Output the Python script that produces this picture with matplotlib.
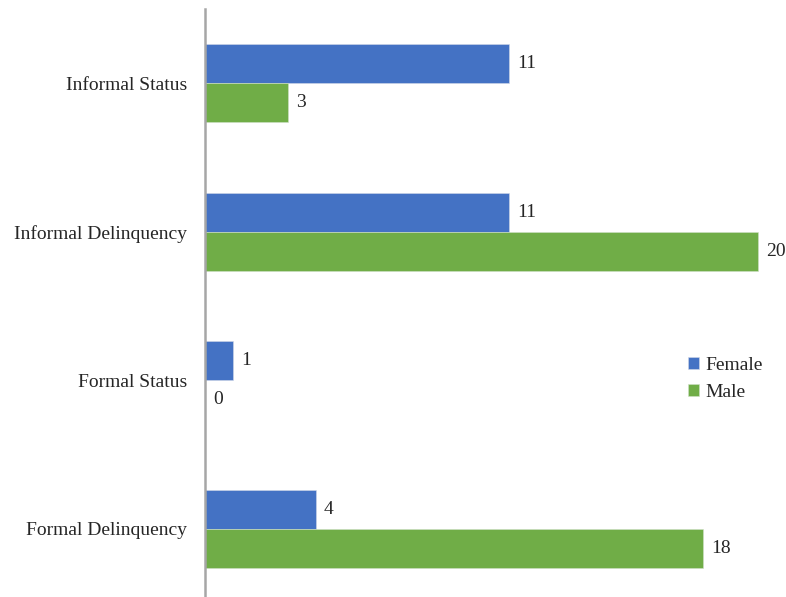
import matplotlib.pyplot as plt

plt.rcParams['font.family'] = ['Liberation Serif', 'DejaVu Serif']

categories = ['Informal Status', 'Informal Delinquency', 'Formal Status', 'Formal Delinquency']
female = [11, 11, 1, 4]
male = [3, 20, 0, 18]

blue = '#4472C4'
green = '#70AD47'

fig = plt.figure(figsize=(7.86, 5.97), dpi=100)
ax = fig.add_axes([205 / 786, 0, 1 - 205 / 786, 588 / 597])

pos = [3, 2, 1, 0]
h = 0.263
fb = ax.barh([p + h / 2 for p in pos], female, height=h, color=blue, label='Female',
             edgecolor='#d0d8e8', linewidth=0.4)
mb = ax.barh([p - h / 2 for p in pos], male, height=h, color=green, label='Male',
             edgecolor='#d0e0c8', linewidth=0.4)

# value labels just past the end of each bar
for bars, vals in ((fb, female), (mb, male)):
    for b, v in zip(bars, vals):
        ax.text(b.get_width() + 0.3, b.get_y() + b.get_height() / 2, str(v),
                va='center', ha='left', fontsize=14, color='#262626')

ax.set_xlim(0, 20 * (786 - 205) / (758 - 205))
ax.set_ylim(3.5 - 588 / 148.5, 3.5)
ax.set_yticks(pos)
ax.set_yticklabels(categories, fontsize=14, color='#262626')
ax.tick_params(axis='y', length=0, pad=13)
ax.set_xticks([])
for s in ('top', 'right', 'bottom'):
    ax.spines[s].set_visible(False)
ax.spines['left'].set_color('#a6a6a6')
ax.spines['left'].set_linewidth(1.8)

ax.legend(loc='upper left', bbox_to_anchor=((680 - 205) / (786 - 205), 1 - (349 - 9) / 588),
          frameon=False, fontsize=14, handlelength=0.6, handleheight=0.6,
          handletextpad=0.3, labelspacing=0.5, borderaxespad=0, labelcolor='#262626')

fig.savefig('out.png', dpi=100)
